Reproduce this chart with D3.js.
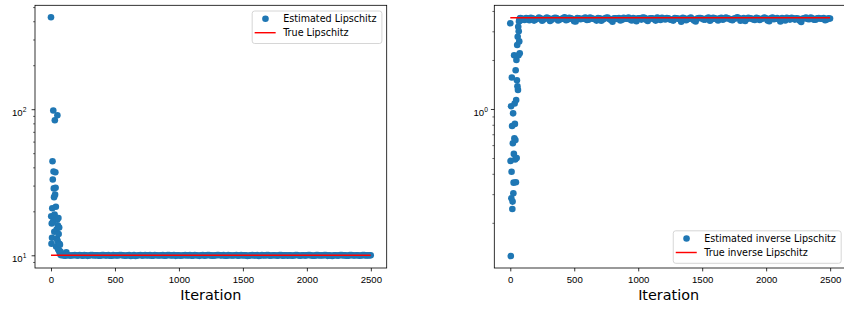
<!DOCTYPE html>
<html>
<head>
<meta charset="utf-8">
<script src="https://cdn.jsdelivr.net/npm/d3@7"></script>
<style>
  body { margin: 0; background: #fff; }
  svg { display: block; font-family: "DejaVu Sans", sans-serif; }
</style>
</head>
<body>
<svg id="chart" width="844" height="310"></svg>
<script>
// ---- data ----
var xTicks = [0, 500, 1000, 1500, 2000, 2500];
var lastIter = 2499;

// early iterations (both runs)
var earlyIters = [0, 2, 4, 6, 8, 10, 12, 14, 16, 18, 20, 22, 24, 26, 28, 30, 32, 34, 36, 38,
  40, 42, 44, 46, 48, 50, 52, 54, 56, 58, 60, 62, 64, 66, 68, 70, 72, 74, 76, 78, 80, 120];
// later iterations: two interleaved sets, every 25 from 99 and from 111
var lateStartA = 99, lateStartB = 111, lateStep = 25;

var lipEarly = [426, 18.5, 12.0, 16.5, 13.2, 21, 44, 33, 17, 98, 37.5, 28.7, 25, 14.5, 19, 84,
  26, 37, 29, 21.5, 11.5, 18, 15, 13, 17.5, 91, 12.5, 16, 11, 18, 14, 10.8, 15.5, 12, 10.4,
  11.8, 10.2, 10.6, 10.1, 10.3, 10.0, 10.5];
var lipLateA = [
  9.98, 10.02, 9.95, 10.01, 9.97, 10.04, 9.93, 10.0, 9.96, 10.03,
  9.99, 9.94, 10.02, 9.97, 10.05, 9.92, 10.0, 9.98, 10.03, 9.95,
  10.01, 9.9, 10.02, 9.97, 10.04, 9.96, 9.99, 10.03, 9.93, 10.0,
  9.97, 10.02, 9.95, 10.05, 9.98, 9.91, 10.01, 9.96, 10.03, 9.99,
  9.94, 10.02, 9.97, 10.0, 9.93, 10.04, 9.98, 9.95, 10.02, 9.99,
  10.03, 9.92, 10.0, 9.97, 10.04, 9.96, 9.99, 10.01, 9.94, 10.03,
  9.98, 9.9, 10.02, 9.96, 10.05, 9.97, 10.0, 9.93, 10.03, 9.98,
  9.95, 10.01, 9.97, 10.04, 9.92, 10.0, 9.99, 10.02, 9.94, 10.03,
  9.97, 9.96, 10.05, 9.98, 9.88, 10.01, 9.95, 10.02, 9.99, 9.93,
  10.04, 9.97, 10.0, 9.96, 10.02, 9.98, 9.99];
var lipLateB = [
  9.93, 10.01, 9.97, 10.04, 9.95, 9.99, 10.02, 9.91, 10.03, 9.96,
  10.0, 9.94, 10.05, 9.98, 9.92, 10.02, 9.96, 10.04, 9.99, 9.93,
  10.03, 9.97, 9.9, 10.01, 9.95, 10.03, 9.98, 9.94, 10.05, 9.97,
  10.0, 9.92, 10.02, 9.96, 10.04, 9.99, 9.93, 10.01, 9.97, 10.03,
  9.95, 10.0, 9.91, 10.04, 9.98, 10.02, 9.94, 9.99, 10.05, 9.96,
  9.92, 10.02, 9.97, 10.0, 9.94, 10.03, 9.98, 9.9, 10.01, 9.96,
  10.04, 9.95, 9.99, 10.02, 9.93, 10.0, 9.97, 10.05, 9.94, 10.01,
  9.98, 9.92, 10.03, 9.96, 10.0, 9.95, 10.04, 9.97, 9.93, 10.02,
  9.99, 10.03, 9.91, 9.97, 10.01, 9.95, 10.04, 9.98, 9.94, 10.02,
  9.96, 10.0, 9.93, 10.03, 9.97, 9.99];
var trueLip = 10;

var invEarly = [3.36, 0.48, 0.125, 1.04, 0.283, 0.412, 1.56, 0.787, 0.243, 0.27, 0.616, 0.94,
  0.304, 0.353, 0.53, 2.14, 0.66, 1.08, 0.81, 0.49, 0.645, 1.73, 0.355, 1.135, 2.0, 0.5, 1.5,
  2.47, 1.38, 2.78, 1.31, 3.2, 2.14, 3.0, 3.45, 2.6, 3.55, 2.2, 3.6, 3.5, 3.62, 3.56];
var invLateA = [
  3.58, 3.62, 3.51, 3.6, 3.55, 3.64, 3.48, 3.59, 3.61, 3.53,
  3.63, 3.5, 3.57, 3.66, 3.54, 3.6, 3.46, 3.62, 3.56, 3.59,
  3.52, 3.64, 3.58, 3.49, 3.61, 3.55, 3.63, 3.57, 3.44, 3.6,
  3.62, 3.53, 3.59, 3.65, 3.5, 3.58, 3.61, 3.54, 3.63, 3.47,
  3.6, 3.56, 3.64, 3.52, 3.59, 3.62, 3.55, 3.49, 3.61, 3.58,
  3.63, 3.51, 3.6, 3.57, 3.45, 3.62, 3.59, 3.54, 3.64, 3.56,
  3.6, 3.5, 3.63, 3.58, 3.61, 3.53, 3.59, 3.66, 3.48, 3.62,
  3.57, 3.6, 3.55, 3.63, 3.52, 3.59, 3.61, 3.46, 3.64, 3.58,
  3.56, 3.62, 3.5, 3.6, 3.63, 3.54, 3.59, 3.42, 3.61, 3.57,
  3.64, 3.53, 3.6, 3.58, 3.62, 3.55, 3.59];
var invLateB = [
  3.52, 3.6, 3.63, 3.49, 3.58, 3.61, 3.55, 3.64, 3.47, 3.59,
  3.62, 3.54, 3.6, 3.51, 3.63, 3.57, 3.45, 3.61, 3.58, 3.64,
  3.53, 3.6, 3.56, 3.62, 3.48, 3.59, 3.65, 3.52, 3.61, 3.57,
  3.5, 3.63, 3.58, 3.55, 3.62, 3.46, 3.6, 3.64, 3.53, 3.59,
  3.61, 3.49, 3.57, 3.63, 3.55, 3.6, 3.52, 3.62, 3.58, 3.44,
  3.61, 3.56, 3.64, 3.5, 3.59, 3.62, 3.54, 3.6, 3.48, 3.63,
  3.57, 3.61, 3.53, 3.65, 3.58, 3.51, 3.6, 3.62, 3.55, 3.47,
  3.63, 3.59, 3.52, 3.61, 3.57, 3.64, 3.5, 3.6, 3.56, 3.62,
  3.45, 3.58, 3.63, 3.54, 3.6, 3.61, 3.49, 3.59, 3.64, 3.56,
  3.6, 3.53, 3.62, 3.58, 3.51, 3.61];
var trueInv = 3.63;

var leftLabels = ["Estimated Lipschitz", "True Lipschitz"];
var rightLabels = ["Estimated inverse Lipschitz", "True inverse Lipschitz"];
var xLabel = "Iteration";

var blue = "#1f77b4", red = "#ff0000";
var fs = 9.6;

function points(early, lateA, lateB) {
  var pts = early.map(function(v, i) { return {it: earlyIters[i], v: v}; });
  lateA.forEach(function(v, i) { pts.push({it: lateStartA + i * lateStep, v: v}); });
  lateB.forEach(function(v, i) { pts.push({it: lateStartB + i * lateStep, v: v}); });
  return pts;
}

var svg = d3.select("#chart");

function panel(box, data, trueVal, labels, legendAtTop, yMajors, yPad) {
  var x = d3.scaleLinear()
    .domain([-0.05 * lastIter, lastIter * 1.05])
    .range([box.x0, box.x1]);
  var lo = Math.log10(Math.min(d3.min(data, function(d) { return d.v; }), trueVal));
  var hi = Math.log10(Math.max(d3.max(data, function(d) { return d.v; }), trueVal));
  var m = (hi - lo) * 0.05;
  var y = d3.scaleLog()
    .domain([Math.pow(10, lo - m), Math.pow(10, hi + m)])
    .range([box.y1, box.y0]);

  // minor ticks
  var dom = y.domain(), minors = [];
  for (var e = Math.floor(Math.log10(dom[0])); e <= Math.ceil(Math.log10(dom[1])); e++) {
    for (var k = 2; k <= 9; k++) {
      var t = k * Math.pow(10, e);
      if (t >= dom[0] && t <= dom[1]) minors.push(t);
    }
  }

  var g = svg.append("g");

  // points
  g.append("g").selectAll("circle")
    .data(data)
    .enter().append("circle")
    .attr("cx", function(d) { return x(d.it); })
    .attr("cy", function(d) { return y(d.v); })
    .attr("r", 3.3)
    .attr("fill", blue);

  // true value line
  g.append("line")
    .attr("x1", x(0)).attr("x2", x(lastIter))
    .attr("y1", y(trueVal)).attr("y2", y(trueVal))
    .attr("stroke", red).attr("stroke-width", 1.45);

  // x axis
  var xa = g.append("g")
    .attr("transform", "translate(0," + box.y1 + ")")
    .call(d3.axisBottom(x).tickValues(xTicks).tickSize(3.4).tickSizeOuter(0).tickPadding(4.6)
      .tickFormat(d3.format("d")));
  xa.select(".domain").remove();
  xa.selectAll("line").attr("stroke", "#000").attr("stroke-width", 0.8);
  xa.selectAll("text").attr("font-size", fs).attr("fill", "#000").attr("font-family", null);

  // y axis minor
  var ym = g.append("g")
    .attr("transform", "translate(" + box.x0 + ",0)")
    .call(d3.axisLeft(y).tickValues(minors).tickSize(1.9).tickSizeOuter(0).tickFormat(""));
  ym.select(".domain").remove();
  ym.selectAll("line").attr("stroke", "#000").attr("stroke-width", 0.6);

  // y axis major
  var ya = g.append("g")
    .attr("transform", "translate(" + box.x0 + ",0)")
    .call(d3.axisLeft(y).tickValues(yMajors).tickSize(3.4).tickSizeOuter(0).tickPadding(yPad)
      .tickFormat(""));
  ya.select(".domain").remove();
  ya.selectAll("line").attr("stroke", "#000").attr("stroke-width", 0.8);
  ya.selectAll("text")
    .attr("font-size", fs).attr("fill", "#000").attr("font-family", null)
    .attr("dy", null)
    .each(function(d) {
      var t = d3.select(this);
      t.append("tspan").attr("dy", 6.2).text("10");
      t.append("tspan").attr("dy", -4).attr("font-size", 6.7).text(Math.round(Math.log10(d)));
    });

  // frame
  g.append("rect")
    .attr("x", box.x0).attr("y", box.y0)
    .attr("width", box.x1 - box.x0).attr("height", box.y1 - box.y0)
    .attr("fill", "none").attr("stroke", "#000").attr("stroke-width", 0.8);

  // x label
  g.append("text")
    .attr("x", (box.x0 + box.x1) / 2 - (box.x1 > 844 ? 1.5 : 0)).attr("y", 300)
    .attr("text-anchor", "middle").attr("font-size", 14.4).attr("fill", "#000")
    .text(xLabel);

  // legend
  var lg = g.append("g");
  var bg = lg.append("rect");
  var boxH = 32.5;
  var top = legendAtTop ? box.y0 + 5.7 : box.y1 - 4.7 - boxH;
  var rows = [top + 7.7, top + 21.7];
  var txt = lg.selectAll("text.lab").data(labels).enter().append("text")
    .attr("class", "lab")
    .attr("font-size", fs).attr("fill", "#000")
    .attr("y", function(d, i) { return rows[i] + 3.4; })
    .text(function(d) { return d; });
  var w = 0;
  txt.each(function() { w = Math.max(w, this.getComputedTextLength()); });
  var R = box.x1 - 4.8;
  var ts = R - 5.3 - w;
  txt.attr("x", ts);
  bg.attr("x", ts - 31).attr("y", top).attr("width", R - (ts - 31)).attr("height", boxH)
    .attr("rx", 2.5).attr("fill", "#fff").attr("fill-opacity", 0.8)
    .attr("stroke", "#cccccc").attr("stroke-width", 0.8);
  lg.append("circle").attr("cx", ts - 17.7).attr("cy", rows[0]).attr("r", 3.3).attr("fill", blue);
  lg.append("line").attr("x1", ts - 28.5).attr("x2", ts - 7.5)
    .attr("y1", rows[1]).attr("y2", rows[1])
    .attr("stroke", red).attr("stroke-width", 1.45);
}

panel({x0: 35, x1: 386.7, y0: 5.3, y1: 268}, points(lipEarly, lipLateA, lipLateB), trueLip,
  leftLabels, true, [10, 100], 5.2);
panel({x0: 494.3, x1: 846, y0: 5.3, y1: 268}, points(invEarly, invLateA, invLateB), trueInv,
  rightLabels, false, [1], 3);
</script>
</body>
</html>
